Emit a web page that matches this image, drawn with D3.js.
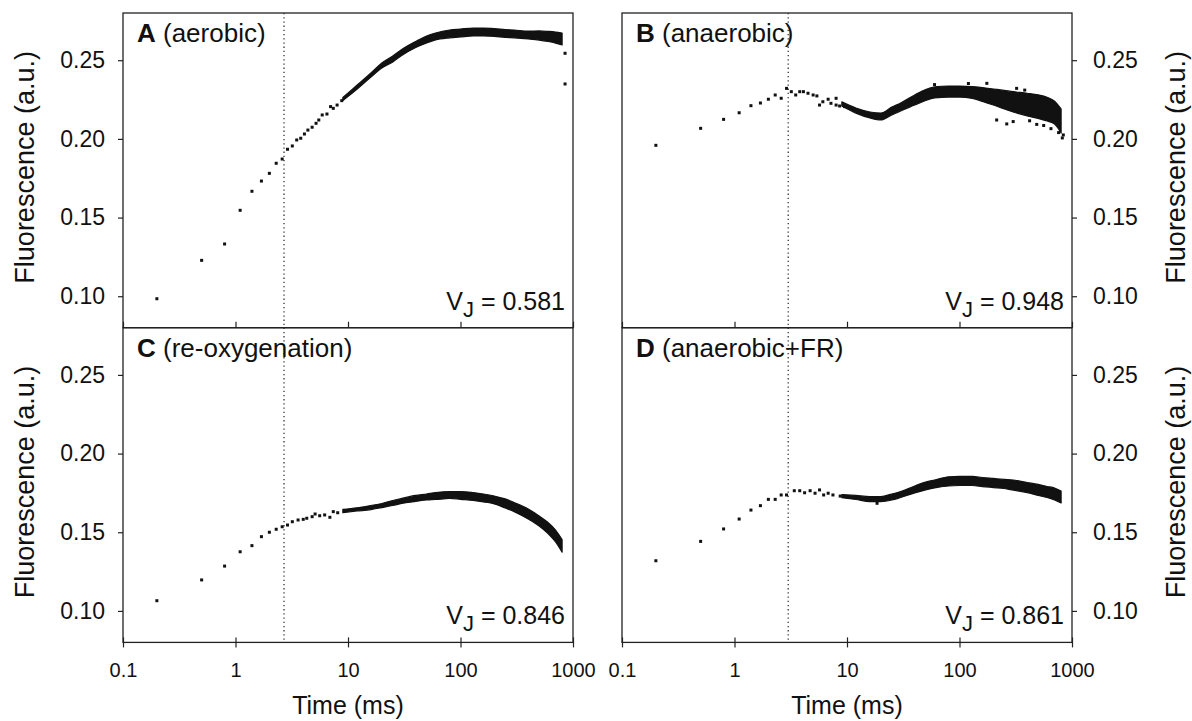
<!DOCTYPE html>
<html>
<head>
<meta charset="utf-8">
<script src="https://cdn.jsdelivr.net/npm/d3@7"></script>
<style>
  body { margin: 0; background: #fff; }
  svg { display: block; font-family: "Liberation Sans", Arial, Helvetica, sans-serif; }
</style>
</head>
<body>
<div id="chart"></div>
<script>
// Chl fluorescence OJIP-type transients, four conditions

var timeTicks = [0.1, 1, 10, 100, 1000]
var fluorTicks = [0.10, 0.15, 0.20, 0.25]

var panelIds = ["A", "B", "C", "D"]
var panelNames = ["(aerobic)", "(anaerobic)", "(re-oxygenation)", "(anaerobic+FR)"]
var vjValues = ["0.581", "0.948", "0.846", "0.861"]
var jStepTimes = [2.7, 3.0, 2.7, 3.0]

// sparse early points (ms, a.u.)
var aDotT = [0.2, 0.5, 0.8, 1.1, 1.4, 1.7, 2.0, 2.3, 2.6, 2.9, 3.2, 3.5, 3.8, 4.1, 4.4, 4.8, 5.2, 5.5, 5.9, 6.5, 7.0, 7.4, 8.0, 8.8, 850, 850]
var aDotF = [.0984, .1228, .1332, .1546, .1667, .1732, .1781, .1845, .1872, .1934, .1955, .1993, .2004, .2031, .2056, .2074, .2099, .2120, .2152, .2158, .2205, .2194, .2215, .2243, .2544, .2349]

var bDotT = [0.2, 0.5, 0.8, 1.1, 1.4, 1.7, 2.0, 2.3, 2.6, 2.9, 3.2, 3.5, 3.8, 4.1, 4.5, 5.0, 5.4, 5.7, 6.1, 6.8, 7.2, 8.0, 8.0, 8.6, 9.5,
            60, 120, 175, 214, 263, 300, 322, 380, 420, 486, 560, 650, 760, 820, 837]
var bDotF = [.1959, .2067, .2124, .2166, .2211, .2228, .2252, .2279, .2258, .2321, .2300, .2279, .2300, .2300, .2290, .2279, .2273, .2215, .2236, .2252, .2226, .2258, .2215, .2209, .2205,
            .2345, .2352, .2353, .2120, .2095, .2110, .2321, .2310, .2115, .2092, .2085, .2065, .2040, .2006, .2025]

var cDotT = [0.2, 0.5, 0.8, 1.1, 1.4, 1.7, 2.0, 2.3, 2.6, 2.9, 3.2, 3.6, 4.0, 4.3, 4.8, 5.1, 5.6, 6.2, 6.9, 7.4, 8.1]
var cDotF = [.1065, .1197, .1285, .1376, .1415, .1472, .1500, .1519, .1535, .1546, .1567, .1578, .1582, .1589, .1599, .1616, .1605, .1610, .1595, .1631, .1624]

var dDotT = [0.2, 0.5, 0.8, 1.1, 1.4, 1.7, 2.0, 2.3, 2.6, 2.9, 3.4, 3.8, 4.2, 4.7, 5.2, 5.7, 6.2, 6.8, 7.5, 8.7, 18.5]
var dDotF = [.1319, .1442, .1521, .1584, .1641, .1669, .1709, .1709, .1737, .1737, .1764, .1764, .1751, .1764, .1748, .1769, .1737, .1748, .1737, .1730, .1684]

// dense part of each trace: lower / upper edge of the point cloud
var bandTimes = [9, 12, 16, 20, 25, 30, 40, 50, 60, 80, 100, 130, 160, 200, 250, 300, 400, 500, 600, 700, 800]
var aLo = [.2244, .2315, .2393, .2450, .2489, .2530, .2581, .2610, .2629, .2642, .2648, .2654, .2654, .2651, .2645, .2642, .2635, .2628, .2619, .2609, .2597]
var aHi = [.2263, .2341, .2419, .2482, .2527, .2568, .2619, .2654, .2673, .2692, .2698, .2704, .2704, .2701, .2695, .2692, .2685, .2686, .2683, .2679, .2673]
var bLo = [.2209, .2164, .2133, .2120, .2152, .2178, .2215, .2244, .2260, .2266, .2266, .2257, .2238, .2215, .2190, .2171, .2146, .2130, .2114, .2094, .2037]
var bHi = [.2235, .2196, .2171, .2164, .2202, .2228, .2279, .2314, .2330, .2336, .2336, .2333, .2326, .2317, .2308, .2300, .2290, .2280, .2265, .2240, .2190]
var cLo = [.1625, .1635, .1644, .1657, .1670, .1683, .1696, .1705, .1708, .1715, .1709, .1702, .1693, .1680, .1654, .1631, .1584, .1540, .1492, .1438, .1373]
var cHi = [.1645, .1655, .1670, .1683, .1702, .1715, .1734, .1743, .1752, .1759, .1759, .1752, .1743, .1730, .1712, .1689, .1648, .1604, .1562, .1514, .1453]
var dLo = [.1720, .1708, .1695, .1695, .1705, .1721, .1750, .1769, .1782, .1794, .1797, .1797, .1790, .1784, .1778, .1768, .1752, .1734, .1721, .1705, .1686]
var dHi = [.1740, .1734, .1727, .1727, .1743, .1759, .1794, .1819, .1832, .1852, .1855, .1855, .1848, .1842, .1836, .1832, .1816, .1804, .1791, .1781, .1762]

var width = 1192, height = 721
var panelW = 450, panelH = 314.7
var lefts = [123, 622], tops = [13, 327.7]
var ink = "#111"

var svg = d3.select("#chart").append("svg")
    .attr("width", width)
    .attr("height", height)

var panels = [
  {col: 0, row: 0, dotT: aDotT, dotF: aDotF, lo: aLo, hi: aHi},
  {col: 1, row: 0, dotT: bDotT, dotF: bDotF, lo: bLo, hi: bHi},
  {col: 0, row: 1, dotT: cDotT, dotF: cDotF, lo: cLo, hi: cHi},
  {col: 1, row: 1, dotT: dDotT, dotF: dDotF, lo: dLo, hi: dHi}
]

panels.forEach(function(p, k) {
  var x0 = lefts[p.col], y0 = tops[p.row]
  var x = d3.scaleLog().domain([0.1, 1000]).range([x0, x0 + panelW])
  var y = d3.scaleLinear().domain([0.08, 0.28]).range([y0 + panelH, y0])
  var g = svg.append("g")

  // J step marker
  g.append("line")
      .attr("x1", x(jStepTimes[k])).attr("x2", x(jStepTimes[k]))
      .attr("y1", y0).attr("y2", y0 + panelH)
      .attr("stroke", ink)
      .attr("stroke-width", 1.1)
      .attr("stroke-dasharray", "1.3,2.9")

  // dense cloud
  var idx = d3.range(bandTimes.length)
  var band = d3.area()
      .x(function(i) { return x(bandTimes[i]) })
      .y0(function(i) { return y(p.lo[i]) })
      .y1(function(i) { return y(p.hi[i]) })
      .curve(d3.curveMonotoneX)
  g.append("path")
      .datum(idx)
      .attr("d", band)
      .attr("fill", ink)
      .attr("stroke", ink)
      .attr("stroke-width", 1.2)
      .attr("stroke-linejoin", "round")

  // single points
  g.selectAll("rect.pt")
    .data(d3.range(p.dotT.length))
  .enter().append("rect")
    .attr("class", "pt")
    .attr("x", function(i) { return x(p.dotT[i]) - 1.5 })
    .attr("y", function(i) { return y(p.dotF[i]) - 1.5 })
    .attr("width", 3)
    .attr("height", 3)
    .attr("fill", ink)

  // frame
  g.append("rect")
      .attr("x", x0).attr("y", y0)
      .attr("width", panelW).attr("height", panelH)
      .attr("fill", "none")
      .attr("stroke", "#222")
      .attr("stroke-width", 1.3)

  // x axis
  var xAxis = d3.axisBottom(x)
      .tickValues(timeTicks)
      .tickFormat(p.row == 1 ? function(d) { return String(d) } : function() { return "" })
      .tickSize(5)
      .tickPadding(15)
  var gx = svg.append("g")
      .attr("transform", "translate(0," + (y0 + panelH) + ")")
      .call(xAxis)
  gx.select(".domain").remove()
  gx.selectAll(".tick line")
      .attr("y1", p.row == 1 ? -5 : -6)
      .attr("y2", p.row == 1 ? 5 : 0)
      .attr("stroke", "#222")
      .attr("stroke-width", 1.2)
  gx.selectAll("text").style("font-size", "20px").attr("fill", ink)

  // y axis
  var yAxis = (p.col == 0 ? d3.axisLeft(y) : d3.axisRight(y))
      .tickValues(fluorTicks)
      .tickFormat(d3.format(".2f"))
      .tickSize(5)
      .tickPadding(p.col == 0 ? 13 : 16)
  var gy = svg.append("g")
      .attr("transform", "translate(" + (p.col == 0 ? x0 : x0 + panelW) + ",0)")
      .call(yAxis)
  gy.select(".domain").remove()
  gy.selectAll(".tick line").attr("stroke", "#222").attr("stroke-width", 1.2)
  gy.selectAll("text").style("font-size", "23px").attr("fill", ink)

  // y title
  var tx = p.col == 0 ? 33.5 : 1185
  svg.append("text")
      .attr("transform", "translate(" + tx + "," + (y0 + panelH / 2 - 3) + ") rotate(-90)")
      .attr("text-anchor", "middle")
      .style("font-size", "27px")
      .attr("fill", ink)
      .text("Fluorescence (a.u.)")

  // panel label
  var lab = g.append("text")
      .attr("x", x0 + 14)
      .attr("y", y0 + 29)
      .style("font-size", "26px")
      .attr("fill", ink)
  lab.append("tspan").style("font-weight", "bold").text(panelIds[k])
  lab.append("tspan").text(" " + panelNames[k])

  // V_J
  var vj = g.append("text")
      .attr("x", x0 + panelW - 8)
      .attr("y", y0 + panelH - 18)
      .attr("text-anchor", "end")
      .style("font-size", "25px")
      .attr("fill", ink)
  vj.append("tspan").text("V")
  vj.append("tspan").attr("dy", 7).style("font-size", "22px").text("J")
  vj.append("tspan").attr("dy", -7).text(" = " + vjValues[k])

  // x title
  if (p.row == 1) {
    svg.append("text")
        .attr("x", x0 + panelW / 2)
        .attr("y", 714)
        .attr("text-anchor", "middle")
        .style("font-size", "25px")
        .attr("fill", ink)
        .text("Time (ms)")
  }
})
</script>
</body>
</html>
